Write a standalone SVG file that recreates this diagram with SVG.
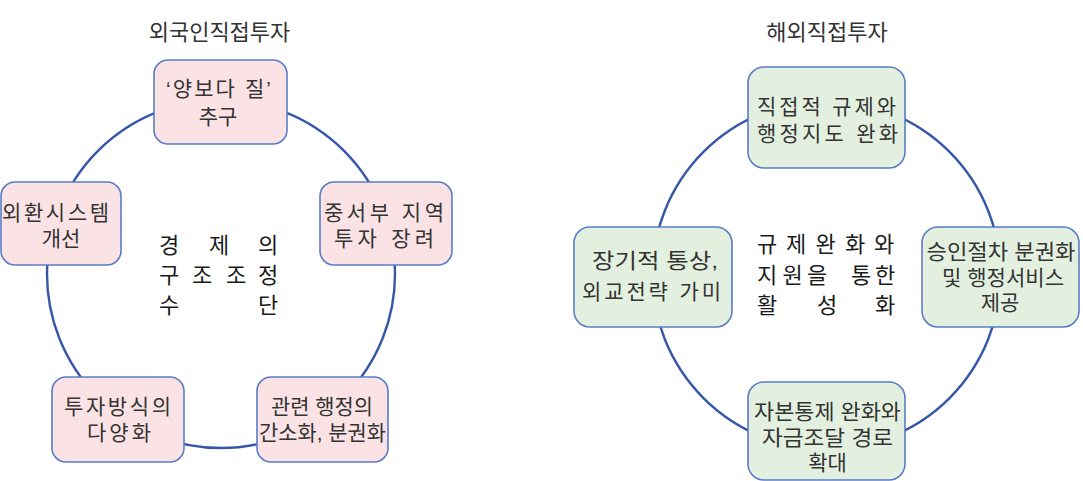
<svg xmlns="http://www.w3.org/2000/svg" width="1083" height="481" viewBox="0 0 1083 481">
<style>
.ring{fill:none;stroke:#3656a8;stroke-width:2.4}
.pink{fill:#fbe3e5;stroke:#5a7cc6;stroke-width:1.6}
.green{fill:#e3f0e0;stroke:#5a7cc6;stroke-width:1.6}
.t{font-family:"Liberation Sans","Noto Sans CJK KR",sans-serif;font-size:21px;fill:#333;text-anchor:middle}
.title{font-family:"Noto Sans CJK KR",sans-serif;font-size:22px;fill:#333;text-anchor:middle}
.c{font-family:"Noto Sans CJK KR",sans-serif;font-size:22px;fill:#1a1a1a;text-anchor:middle}
</style>
<rect width="1083" height="481" fill="#fff"/>
<g id="connectors">
<circle class="ring" cx="221" cy="274" r="174"/>
<circle class="ring" cx="826.5" cy="275" r="174"/>
</g>
<g id="title-left"><text class="title" x="219.5" y="39.5">외국인직접투자</text></g>
<g id="title-right"><text class="title" x="827" y="39.5">해외직접투자</text></g>
<g id="center-left">
<text class="c" x="169 219 268" y="252.5">경제의</text>
<text class="c" x="169 202 236 268" y="282.5">구조조정</text>
<text class="c" x="169 268" y="313">수단</text>
</g>
<g id="center-right">
<text class="c" x="767 796 825.5 855 884" y="252">규제완화와</text>
<text class="c" x="767 792.5 817 839 861 885" y="282.5">지원을 통한</text>
<text class="c" x="767 827 885" y="313">활성화</text>
</g>
<g id="node-quality">
<rect class="pink" x="154" y="60" width="133" height="84" rx="14"/>
<text class="t" x="218.5" y="96" textLength="105">‘양보다 질’</text>
<text class="t" x="218" y="124">추구</text>
</g>
<g id="node-fx">
<rect class="pink" x="1" y="182" width="120" height="83" rx="14"/>
<text class="t" x="55.5" y="219.5" textLength="107">외환시스템</text>
<text class="t" x="61" y="245.5">개선</text>
</g>
<g id="node-midwest">
<rect class="pink" x="320" y="182" width="132" height="83" rx="14"/>
<text class="t" x="384" y="219.5" textLength="120">중서부 지역</text>
<text class="t" x="384" y="245.5" textLength="100">투자 장려</text>
</g>
<g id="node-method">
<rect class="pink" x="52" y="377" width="132" height="85" rx="14"/>
<text class="t" x="117.5" y="414" textLength="107">투자방식의</text>
<text class="t" x="119" y="440" textLength="64">다양화</text>
</g>
<g id="node-admin">
<rect class="pink" x="257" y="377" width="131" height="85" rx="14"/>
<text class="t" x="322" y="414" textLength="102" lengthAdjust="spacingAndGlyphs">관련 행정의</text>
<text class="t" x="322.5" y="440" textLength="127" lengthAdjust="spacingAndGlyphs">간소화, 분권화</text>
</g>
<g id="node-regulation">
<rect class="green" x="748" y="67" width="157" height="101" rx="16"/>
<text class="t" x="826.5" y="113.5" textLength="139">직접적 규제와</text>
<text class="t" x="827.5" y="140.5" textLength="141">행정지도 완화</text>
</g>
<g id="node-diplomacy">
<rect class="green" x="574" y="227" width="158" height="100" rx="16"/>
<text class="t" x="655" y="267.5" textLength="126" lengthAdjust="spacingAndGlyphs">장기적 통상,</text>
<text class="t" x="651.5" y="298.5" textLength="139">외교전략 가미</text>
</g>
<g id="node-approval">
<rect class="green" x="922" y="227" width="157" height="100" rx="16"/>
<text class="t" x="1001" y="258.5" textLength="149" lengthAdjust="spacingAndGlyphs">승인절차 분권화</text>
<text class="t" x="1003" y="284.5" textLength="122" lengthAdjust="spacingAndGlyphs">및 행정서비스</text>
<text class="t" x="1000" y="309.5">제공</text>
</g>
<g id="node-capital">
<rect class="green" x="748" y="382" width="157" height="98" rx="16"/>
<text class="t" x="827.5" y="418.5" textLength="147" lengthAdjust="spacingAndGlyphs">자본통제 완화와</text>
<text class="t" x="827.5" y="444.5" textLength="131" lengthAdjust="spacingAndGlyphs">자금조달 경로</text>
<text class="t" x="827.5" y="469.5">확대</text>
</g>
</svg>
